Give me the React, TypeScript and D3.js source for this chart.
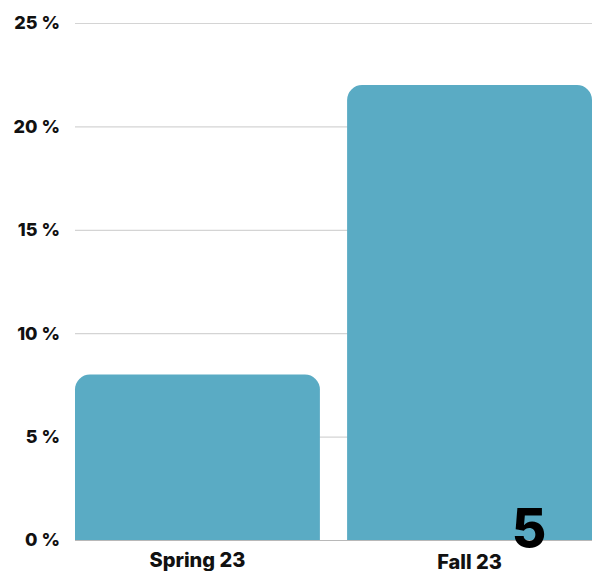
import React, { useEffect, useRef } from 'react';
import * as d3 from 'd3';

const categories = ['Spring 23', 'Fall 23'];
const values = [8, 22];
const yTicks = [0, 5, 10, 15, 20, 25];
const pageMark = '5';

const W = 598;
const H = 571;
const FONT = 'Inter, "DejaVu Sans", sans-serif';

const topRounded = (x: number, y: number, w: number, h: number, r: number) => {
    const p = d3.path();
    const rr = Math.min(r, w / 2, h);
    p.moveTo(x, y + h);
    p.lineTo(x, y + rr);
    p.arcTo(x, y, x + rr, y, rr);
    p.lineTo(x + w - rr, y);
    p.arcTo(x + w, y, x + w, y + rr, rr);
    p.lineTo(x + w, y + h);
    p.closePath();
    return p.toString();
};

const BarChart = () => {
    const svgRef = useRef<SVGSVGElement>(null);

    useEffect(() => {
        const svg = d3.select(svgRef.current);
        svg.selectAll('*').remove();

        const left = 75;
        const right = 592;
        const top = 23;
        const bottom = 540;

        const x = d3.scaleBand<string>().domain(categories).range([left, right]).paddingInner(0.1).paddingOuter(0);
        const y = d3.scaleLinear().domain([0, 25]).range([bottom, top]);

        // gridlines
        svg.append('g')
            .selectAll('line')
            .data(yTicks)
            .enter()
            .append('line')
            .attr('x1', left)
            .attr('x2', right)
            .attr('y1', (d) => y(d) + 0.5)
            .attr('y2', (d) => y(d) + 0.5)
            .style('stroke', (d) => (d === 0 ? '#b8b8b8' : '#d4d4d4'))
            .style('stroke-width', 1.2);

        // tick labels
        svg.append('g')
            .selectAll('text')
            .data(yTicks)
            .enter()
            .append('text')
            .attr('x', 60)
            .attr('y', (d) => y(d))
            .attr('dy', '0.35em')
            .attr('text-anchor', 'end')
            .style('font-family', FONT)
            .style('font-weight', 800)
            .style('font-size', '18px')
            .style('fill', '#111')
            .text((d) => `${d} %`);

        // bars
        svg.append('g')
            .selectAll('path')
            .data(values)
            .enter()
            .append('path')
            .attr('d', (d, i) => {
                const bx = x(categories[i]) as number;
                return topRounded(bx, y(d), x.bandwidth(), y(0) - y(d), 15);
            })
            .style('fill', '#5aabc4');

        // category labels
        svg.append('g')
            .selectAll('text')
            .data(categories)
            .enter()
            .append('text')
            .attr('x', (d) => (x(d) as number) + x.bandwidth() / 2)
            .attr('y', (d, i) => 567 + i * 2)
            .attr('text-anchor', 'middle')
            .style('font-family', FONT)
            .style('font-weight', 800)
            .style('font-size', '20px')
            .style('fill', '#111')
            .text((d) => d);

        // page mark
        svg.append('text')
            .attr('x', 529)
            .attr('y', 547)
            .attr('text-anchor', 'middle')
            .style('font-family', FONT)
            .style('font-weight', 800)
            .style('font-size', '53px')
            .style('fill', '#000')
            .text(pageMark);
    }, []);

    return <svg ref={svgRef} width={W} height={H} style={{ position: 'absolute', left: 0, top: 0, background: '#fff' }} />;
};

export default function App() {
    return <BarChart />;
}
